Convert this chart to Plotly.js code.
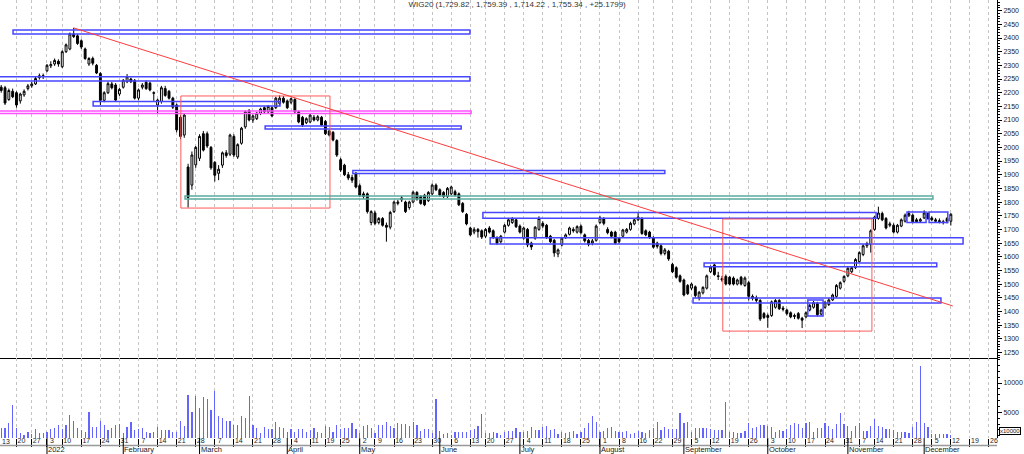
<!DOCTYPE html>
<html>
<head>
<meta charset="utf-8">
<script src="https://cdn.plot.ly/plotly-3.0.1.min.js"></script>
<style>html,body{margin:0;padding:0;background:#fff;}#chart{width:1024px;height:454px;}</style>
</head>
<body>
<div id="chart"></div>
<script>
// WIG20 daily candles, 13 Dec 2021 .. 12 Dec 2022 (trading-day sequence)
const open = [2205,2220,2218,2175,2205,2200,2170,2192,2215,2225,
2232,2255,2262,2280,2298,2305,2315,2295,2350,2360,
2415,2408,2390,2360,2305,2325,2300,2270,2172,2200,
2232,2228,2195,2220,2240,2250,2245,2180,2220,2238,
2235,2200,2155,2168,2215,2205,2180,2155,2110,2045,
1928,1862,1936,1960,2050,2050,2000,1945,1905,1935,
1980,1975,2040,1965,2015,2075,2135,2100,2105,2125,
2145,2130,2145,2145,2160,2180,2170,2165,2175,2130,
2110,2090,2093,2110,2100,2110,2095,2060,2055,2025,
1955,1935,1900,1890,1905,1860,1830,1830,1725,1760,
1725,1740,1715,1708,1765,1795,1808,1800,1780,1800,
1835,1820,1825,1805,1830,1862,1845,1835,1820,1830,
1838,1830,1795,1755,1705,1690,1700,1695,1675,1705,
1695,1670,1655,1690,1715,1725,1735,1712,1668,1700,
1650,1668,1700,1722,1715,1675,1660,1610,1643,1670,
1682,1700,1690,1712,1680,1660,1650,1660,1725,1738,
1700,1690,1690,1668,1675,1690,1700,1720,1735,1740,
1695,1690,1670,1650,1640,1612,1620,1572,1560,1530,
1515,1495,1485,1490,1450,1468,1485,1545,1570,1530,
1520,1528,1525,1522,1500,1525,1495,1505,1448,1450,
1440,1392,1385,1385,1415,1440,1412,1405,1395,1385,
1392,1375,1380,1405,1415,1430,1390,1415,1425,1442,
1455,1485,1510,1530,1545,1560,1582,1608,1640,1645,
1700,1740,1758,1740,1715,1715,1690,1712,1730,1750,
1752,1735,1730,1742,1758,1742,1735,1732,1728,1740,
1729.82];
const high = [2222,2228,2225,2215,2215,2205,2200,2212,2232,2240,
2258,2270,2270,2305,2315,2325,2322,2355,2380,2420,
2437,2415,2395,2365,2330,2332,2305,2275,2205,2240,
2240,2235,2218,2250,2268,2255,2250,2215,2235,2245,
2240,2205,2178,2225,2225,2210,2185,2160,2118,2125,
1940,1985,2005,2048,2060,2058,2005,1950,1935,1985,
1990,2050,2048,2015,2075,2135,2140,2120,2130,2145,
2150,2155,2150,2185,2190,2188,2175,2182,2180,2135,
2115,2110,2122,2118,2118,2115,2100,2065,2060,2030,
1962,1940,1910,1900,1910,1868,1838,1835,1770,1768,
1745,1745,1725,1768,1805,1808,1822,1805,1805,1842,
1840,1825,1830,1840,1868,1868,1850,1840,1855,1860,
1845,1835,1800,1760,1710,1708,1705,1700,1705,1712,
1700,1675,1680,1720,1742,1745,1740,1718,1710,1705,
1655,1712,1748,1730,1720,1680,1665,1630,1672,1685,
1710,1708,1715,1718,1685,1665,1665,1718,1750,1745,
1708,1695,1695,1672,1702,1705,1728,1740,1760,1745,
1700,1695,1675,1655,1645,1632,1625,1578,1565,1535,
1520,1500,1505,1495,1475,1492,1535,1568,1575,1545,
1530,1535,1530,1528,1520,1530,1528,1512,1462,1458,
1445,1398,1392,1440,1445,1445,1420,1410,1400,1392,
1398,1380,1400,1428,1438,1435,1410,1438,1448,1465,
1500,1510,1532,1562,1565,1595,1620,1645,1655,1700,
1750,1783,1765,1745,1728,1722,1720,1740,1758,1768,
1758,1742,1742,1770,1765,1748,1742,1740,1735,1745,
1759.39];
const low = [2195,2200,2155,2170,2180,2145,2160,2185,2208,2218,
2228,2248,2250,2275,2290,2298,2295,2290,2345,2355,
2400,2375,2360,2320,2298,2300,2268,2155,2165,2195,
2212,2168,2188,2215,2235,2235,2175,2172,2212,2210,
2205,2170,2125,2160,2185,2175,2140,2055,2030,2035,
1780,1845,1925,1950,1985,1998,1918,1875,1880,1925,
1962,1968,1965,1958,2010,2068,2095,2090,2100,2118,
2125,2125,2110,2140,2155,2160,2140,2158,2125,2088,
2075,2085,2088,2095,2095,2078,2045,2040,2022,1965,
1910,1895,1880,1870,1850,1818,1812,1758,1715,1715,
1718,1710,1655,1700,1760,1788,1800,1760,1772,1795,
1805,1790,1785,1800,1825,1840,1820,1815,1815,1825,
1820,1785,1760,1715,1675,1682,1670,1665,1668,1685,
1665,1643,1648,1685,1710,1720,1705,1685,1662,1635,
1625,1662,1695,1705,1665,1650,1600,1598,1638,1665,
1678,1688,1685,1682,1652,1638,1642,1655,1720,1715,
1682,1668,1645,1648,1670,1685,1695,1715,1730,1680,
1675,1665,1630,1630,1605,1605,1585,1540,1520,1505,
1455,1460,1478,1450,1440,1462,1480,1540,1530,1515,
1508,1495,1495,1495,1495,1495,1490,1440,1440,1432,
1365,1372,1340,1380,1410,1405,1400,1385,1375,1372,
1370,1339,1375,1400,1410,1382,1385,1410,1420,1438,
1450,1480,1505,1525,1540,1555,1578,1602,1632,1615,
1695,1735,1730,1700,1708,1685,1685,1708,1725,1745,
1722,1725,1725,1738,1735,1730,1725,1722,1718,1722,
1714.22];
const close = [2215,2208,2162,2208,2185,2155,2195,2205,2225,2232,
2252,2262,2260,2300,2303,2318,2305,2350,2375,2415,
2405,2380,2367,2325,2325,2308,2272,2172,2200,2233,
2218,2173,2212,2245,2258,2240,2180,2210,2228,2215,
2210,2198,2173,2218,2190,2180,2147,2064,2040,2118,
1817,1972,2000,2040,1990,2005,1925,1898,1920,1980,
1970,2045,1972,2010,2070,2130,2100,2115,2125,2140,
2130,2150,2115,2180,2180,2165,2145,2178,2130,2093,
2082,2105,2118,2100,2112,2082,2050,2045,2027,1972,
1917,1900,1888,1880,1855,1825,1820,1765,1765,1722,
1740,1715,1708,1762,1800,1800,1815,1765,1800,1836,
1810,1795,1790,1835,1862,1845,1826,1820,1850,1855,
1826,1790,1765,1720,1680,1700,1692,1672,1700,1690,
1672,1650,1675,1715,1735,1738,1710,1690,1705,1643,
1636,1708,1740,1712,1670,1655,1614,1625,1668,1680,
1705,1695,1710,1688,1658,1645,1658,1712,1742,1722,
1688,1675,1650,1655,1698,1700,1722,1735,1745,1685,
1680,1672,1635,1638,1612,1625,1592,1545,1525,1510,
1460,1465,1500,1458,1470,1488,1530,1562,1535,1528,
1515,1500,1500,1500,1515,1500,1522,1455,1455,1440,
1372,1378,1378,1435,1440,1410,1408,1392,1380,1382,
1375,1368,1395,1422,1432,1388,1405,1432,1442,1460,
1495,1505,1528,1558,1560,1590,1615,1640,1648,1695,
1745,1760,1735,1705,1720,1690,1715,1735,1752,1758,
1728,1728,1736,1760,1740,1735,1730,1728,1725,1730.16,
1755.34];
const volume = [2300,2260,2260,3110,6240,2260,1520,1120,1690,1230,
2090,1520,1400,1690,2090,2260,2830,2090,2830,4540,
3510,2260,1970,1690,4990,2540,2540,3570,2830,1970,
2260,2830,2940,1520,2540,3400,1970,2150,2260,1580,
1520,1690,2540,1970,1970,1970,1690,1690,3510,2660,
7950,4990,7840,5670,7550,7210,5390,8690,4360,4080,
3510,3510,2830,2830,4420,3970,7840,2830,2370,1520,
2430,2150,2150,3400,2540,2370,1580,2090,1690,2090,
2150,1690,1970,2260,1690,1400,2660,2430,1690,2830,
2150,2260,2260,3230,2150,1400,2710,2830,2260,1400,
2830,2830,3280,2710,2260,3110,3000,3000,2710,3280,
2830,1800,2150,2090,1400,7210,1800,1230,1400,1120,
1580,1690,1690,1580,1970,2090,2660,4710,1400,1520,
1580,1400,1120,1690,1800,1800,2260,1690,1690,1860,
2430,1970,1970,2540,2660,1970,2090,1290,1580,1400,
1580,1800,1290,1690,2260,3110,4360,3400,1690,1860,
2370,2430,1860,1580,1690,1800,1290,1400,1800,1690,
1400,1970,2370,3280,1970,2430,2090,2090,2090,4820,
3230,3400,1690,2370,2370,2260,2260,2090,1970,1970,
1970,6700,1690,1690,1520,1400,1860,3230,2370,2540,
2830,2830,2710,2540,1690,1970,1860,2090,2830,3230,
2940,2260,3110,3400,1690,2370,2370,3110,2660,2090,
3000,4820,2940,2660,1860,2660,3110,1800,1860,2660,
3850,2660,2540,2090,2090,1970,1690,1690,1690,1520,
2540,3400,12900,3230,2540,1290,1290,1230,1290,1230,
1120];

// axis calendar (trading-day index of each week's first session / month's first session)
const weekTickIdx = [0,5,9,13,17,22,27,32,37,42,47,52,57,62,67,72,77,82,86,90,95,99,104,109,114,119,124,128,133,138,143,148,153,158,163,168,172,177,182,187,192,197,202,207,212,217,222,226,230,235,240,245,250,255,260];
const weekTickLabel = ['13','20','27','3','10','17','24','31','7','14','21','28','7','14','21','28','4','11','19','25','2','9','16','23','30','6','13','20','27','4','11','18','25','1','8','16','22','29','5','12','19','26','3','10','17','24','31','7','14','21','28','5','12','19','26'];
const monthIdx = [13,33,53,76,95,116,137,158,180,202,223,243];
const monthLabel = ['2022','February','March','April','May','June','July','August','September','October','November','December'];
const priceTicks = [];
for (let v = 1250; v <= 2500; v += 50) priceTicks.push(v);
const volumeTicks = [5000, 10000];
const volumeTickLabel = ['5000', '10000'];

const idx = close.map((_, i) => i);
const FONT = 'Liberation Sans, Arial, sans-serif';
const PLOT_H = 438; // plot area height in px
const py = Y => (PLOT_H - Y) / PLOT_H; // paper y for a pixel row

const candle = {
  type: 'candlestick', x: idx, open: open, high: high, low: low, close: close,
  xaxis: 'x', yaxis: 'y',
  increasing: {line: {color: '#000', width: 1}, fillcolor: '#ffffff'},
  decreasing: {line: {color: '#000', width: 1}, fillcolor: '#000000'},
  whiskerwidth: 0, hoverinfo: 'skip', showlegend: false
};
const vol = {
  type: 'bar', x: idx, y: volume, xaxis: 'x2', yaxis: 'y2',
  marker: {color: 'rgb(100,100,255)', line: {width: 0}}, width: 0.32,
  hoverinfo: 'skip', showlegend: false
};

const blue = 'rgb(70,70,255)';
function band(x0, x1, y0, y1, color, w) {
  return {type: 'rect', xref: 'x', yref: 'y', x0: x0, x1: x1, y0: y0, y1: y1,
    line: {color: color, width: w || 1.5}, fillcolor: 'rgba(0,0,0,0)'};
}
const shapes = [
  band(4.1, 123.9, 2414.5, 2429.5, blue),
  band(-1, 123.9, 2243, 2258, blue),
  band(25.1, 74.1, 2151, 2168, blue),
  band(-1, 124.2, 2124, 2133, 'rgb(255,80,255)'),
  band(70.2, 121.6, 2067, 2078, blue),
  band(48.1, 87.2, 1778, 2188, 'rgb(255,90,90)', 1),
  band(49.2, 245.3, 1811, 1822, 'rgb(90,170,160)'),
  band(93.2, 175.0, 1904.5, 1915.5, blue),
  band(127.3, 230.4, 1741, 1762, blue),
  band(238.5, 243.5, 1725, 1764, blue),
  band(244.3, 249.2, 1725, 1764, blue),
  band(129.2, 253.2, 1647, 1669, blue),
  band(185.3, 246.3, 1563, 1577, blue),
  band(182.4, 247.4, 1431, 1449, blue),
  band(190.2, 229.3, 1328, 1738, 'rgb(255,90,90)', 1),
  band(212.5, 216.5, 1383, 1442, blue),
  {type: 'line', xref: 'x', yref: 'y', x0: 20, y0: 2437, x1: 250.5, y1: 1420,
    line: {color: 'rgb(255,60,60)', width: 1}},
  {type: 'line', xref: 'paper', yref: 'paper', x0: 0, x1: 1, y0: py(445.5), y1: py(445.5),
    line: {color: '#999', width: 1.5}}
];
monthIdx.forEach(m => shapes.push({type: 'line', xref: 'x', yref: 'paper', x0: m, x1: m,
  y0: py(438), y1: py(454), line: {color: '#000', width: 1}}));

const annotations = monthIdx.map((m, k) => ({
  xref: 'x', yref: 'paper', x: m, y: py(449.8), text: monthLabel[k], showarrow: false,
  xanchor: 'left', yanchor: 'middle', xshift: -1, font: {family: FONT, size: 7.5, color: '#222'}
}));
// first week label (its tick lies just left of the visible range)
annotations.push({xref: 'paper', yref: 'paper', x: 0.0005, y: py(441.3), text: weekTickLabel[0], showarrow: false,
  xanchor: 'left', yanchor: 'middle', font: {family: FONT, size: 7, color: '#222'}});
annotations.push({xref: 'paper', yref: 'paper', x: 1.002, y: py(431), text: 'x10000', showarrow: false,
  xanchor: 'left', yanchor: 'middle', font: {family: FONT, size: 6, color: '#222'},
  bordercolor: '#000', borderwidth: 1, borderpad: 0});

const gridStyle = {showgrid: true, gridcolor: '#c4c4c4', griddash: '3px,3px', gridwidth: 1};
const layout = {
  width: 1024, height: 454, autosize: false,
  margin: {l: 0, r: 27, t: 0, b: 16, pad: 0},
  paper_bgcolor: '#fff', plot_bgcolor: '#fff',
  font: {family: FONT, size: 8, color: '#222'},
  title: {text: 'WIG20 (1,729.82 , 1,759.39 , 1,714.22 , 1,755.34 , +25.1799)',
    font: {family: FONT, size: 8, color: '#333'}, x: 0.505, xanchor: 'center', y: 0.997, yanchor: 'top'},
  xaxis: Object.assign({domain: [0, 1], range: [0.68, 262.1], anchor: 'y', tickmode: 'array',
    tickvals: weekTickIdx, ticktext: weekTickLabel, showticklabels: false, ticks: '',
    showline: true, linecolor: '#000', linewidth: 1, zeroline: false, rangeslider: {visible: false},
    fixedrange: true}, gridStyle),
  xaxis2: Object.assign({domain: [0, 1], matches: 'x', anchor: 'y2', tickmode: 'array',
    tickvals: weekTickIdx, ticktext: weekTickLabel, ticks: 'outside', ticklen: 8, tickcolor: '#000',
    tickwidth: 1, ticklabelstandoff: -12, ticklabelshift: 5, showline: false, zeroline: false,
    tickfont: {family: FONT, size: 7, color: '#222'}}, gridStyle),
  yaxis: {domain: [py(358), 1], range: [1229.6, 2539], side: 'right', anchor: 'x',
    tickmode: 'array', tickvals: priceTicks, ticks: 'outside', ticklen: 4, tickcolor: '#000',
    minor: {ticks: 'outside', ticklen: 2, dtick: 10, tickcolor: '#000', showgrid: false},
    showline: true, linecolor: '#000', linewidth: 1, showgrid: false, zeroline: false,
    tickfont: {family: FONT, size: 7, color: '#222'}},
  yaxis2: {domain: [0, py(358)], range: [614, 14266], side: 'right', anchor: 'x2',
    tickmode: 'array', tickvals: volumeTicks, ticktext: volumeTickLabel, ticks: 'outside', ticklen: 4, tickcolor: '#000',
    minor: {ticks: 'outside', ticklen: 2, dtick: 1000, tickcolor: '#000', showgrid: false},
    showline: true, linecolor: '#000', linewidth: 1, showgrid: false, zeroline: false,
    tickfont: {family: FONT, size: 7, color: '#222'}},
  shapes: shapes, annotations: annotations, showlegend: false, bargap: 0
};
Plotly.newPlot('chart', [candle, vol], layout, {staticPlot: true, displayModeBar: false});
</script>
</body>
</html>
